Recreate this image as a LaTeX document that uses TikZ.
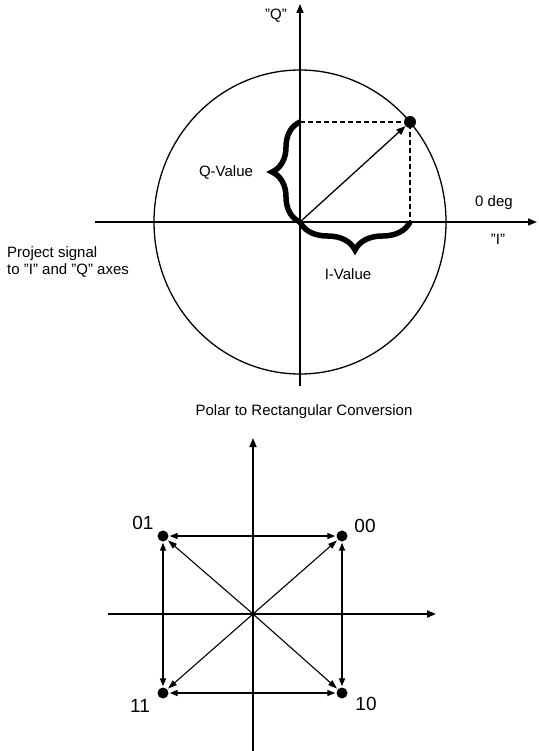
\documentclass[tikz,border=0pt]{standalone}
\usepackage{fontspec}
\setmainfont{Liberation Sans}
\usetikzlibrary{arrows.meta,decorations.pathreplacing,shapes.geometric}
\newcommand{\qq}{\symbol{34}}
\begin{document}
\begin{tikzpicture}[x=1pt,y=-1pt,
  lbl/.style={font=\fontsize{15}{17.5}\selectfont, inner sep=0pt},
  biglbl/.style={font=\fontsize{19}{22}\selectfont, inner sep=0pt},
  axis/.style={line width=1.5pt},
  tip/.style={-{Triangle[length=9pt,width=7pt]}},
  dbl/.style={{Triangle[length=8pt,width=6pt]}-{Triangle[length=8pt,width=6pt]}, line width=1.6pt, shorten <=1pt, shorten >=1pt},
  diag/.style={-{Triangle[length=9pt,width=6pt]}, line width=1.1pt, shorten >=1pt},
  dot/.style={circle, fill=black, inner sep=0pt, minimum size=#1},
  bracestyle/.style={decorate, decoration={brace, amplitude=28pt}, line width=5.5pt},
  dsh/.style={dash pattern=on 5pt off 3pt, line width=1.1pt}
]
\useasboundingbox (0,0) rectangle (538,751);

% ---------- top diagram ----------
\coordinate (O) at (300,222);
\coordinate (qtop) at (300,4);
\coordinate (qbot) at (300,386);
\coordinate (ileft) at (95,222);
\coordinate (iright) at (537,222);
\coordinate (qv) at (300,122);
\coordinate (iv) at (410,222);

\node[ellipse, draw, line width=1.3pt, inner sep=0pt, minimum width=292pt, minimum height=304pt] (circ) at (O) {};
\draw[axis] (ileft) -- (O);
\draw[axis, tip] (O) -- (iright);
\draw[axis] (qbot) -- (O);
\draw[axis, tip] (O) -- (qtop);

\node[dot=12pt] (P) at (410,122) {};
\draw[dsh] (qv) -- (P.center) -- (iv);
\draw[line width=1.3pt, tip] (O) -- (P);

\draw[bracestyle] (O) -- (qv);
\draw[bracestyle] (iv) -- (O);

\node[lbl] (qlab) at (276,16) {\qq Q\qq};
\node[lbl] (deg) at (494,203) {0 deg};
\node[lbl] (ilab) at (498,239) {\qq I\qq};
\node[lbl] (qval) at (226,172) {Q-Value};
\node[lbl] (ival) at (348,274) {I-Value};
\node[lbl, align=left, anchor=west] (proj) at (7,262) {Project signal\\to \qq I\qq{} and \qq Q\qq{} axes};
\node[lbl] (title) at (304,412) {Polar to Rectangular Conversion};

% ---------- bottom diagram ----------
\coordinate (O2) at (253,614);
\coordinate (hl) at (108,614);
\coordinate (hr) at (436,614);
\coordinate (vt) at (253,438);
\coordinate (vb) at (253,751);

\draw[line width=1.8pt] (hl) -- (O2);
\draw[line width=1.8pt, tip] (O2) -- (hr);
\draw[line width=1.8pt] (vb) -- (O2);
\draw[line width=1.8pt, tip] (O2) -- (vt);

\node[dot=11pt] (d01) at (163,536) {};
\node[dot=11pt] (d00) at (342,536) {};
\node[dot=11pt] (d11) at (163,693) {};
\node[dot=11pt] (d10) at (342,693) {};

\draw[dbl] (d01) -- (d00);
\draw[dbl] (d11) -- (d10);
\draw[dbl] (d01) -- (d11);
\draw[dbl] (d00) -- (d10);

\draw[diag] (O2) -- (d00);
\draw[diag] (O2) -- (d01);
\draw[diag] (O2) -- (d11);
\draw[diag] (O2) -- (d10);

\node[biglbl] (l01) at (143,523) {01};
\node[biglbl] (l00) at (365,526) {00};
\node[biglbl] (l11) at (140,706) {11};
\node[biglbl] (l10) at (366,704) {10};
\end{tikzpicture}
\end{document}
